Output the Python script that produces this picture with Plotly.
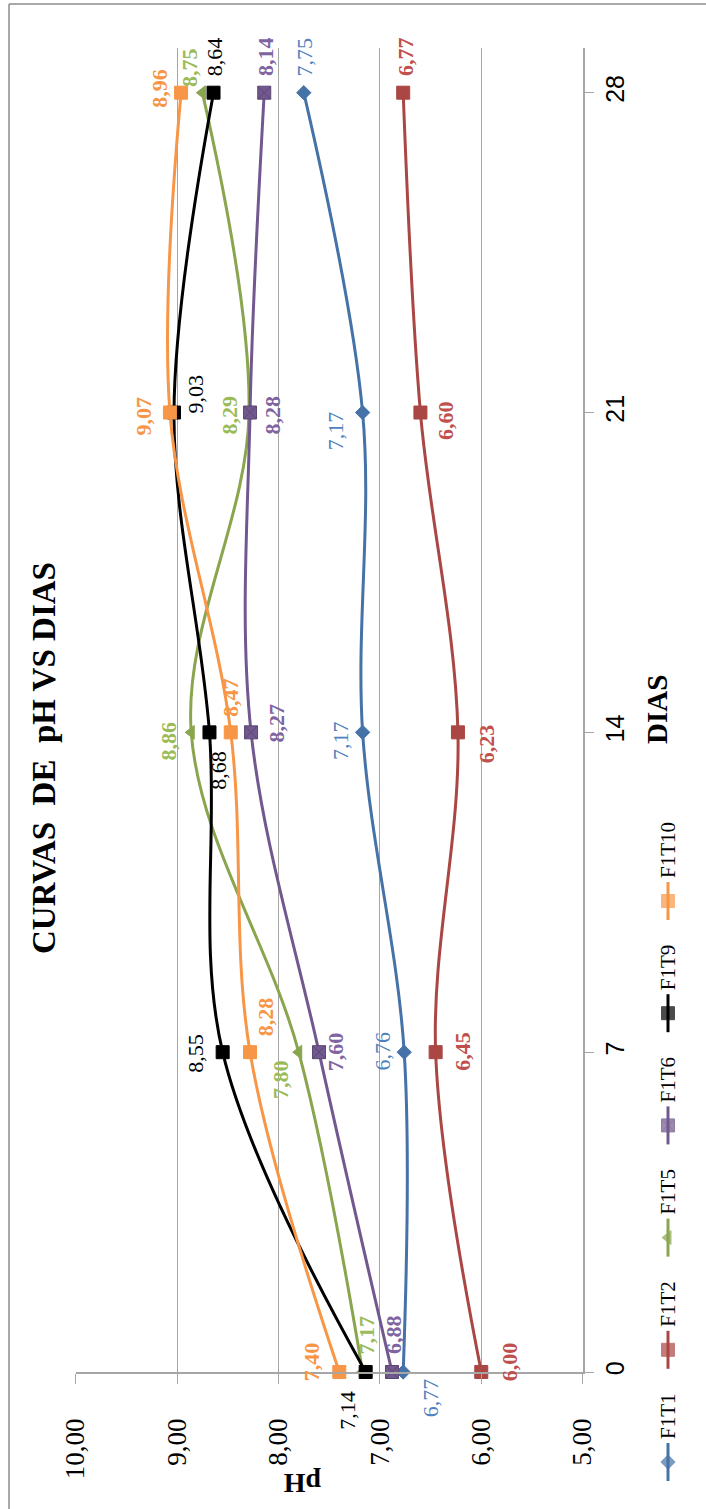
import plotly.graph_objects as go

# ---- data -------------------------------------------------------------
DAYS = [0, 7, 14, 21, 28]
SERIES_NAMES = ["F1T1", "F1T2", "F1T5", "F1T6", "F1T9", "F1T10"]
F1T1 = [6.77, 6.76, 7.17, 7.17, 7.75]
F1T2 = [6.00, 6.45, 6.23, 6.60, 6.77]
F1T5 = [7.17, 7.80, 8.86, 8.29, 8.75]
F1T6 = [6.88, 7.60, 8.27, 8.28, 8.14]
F1T9 = [7.14, 8.55, 8.68, 9.03, 8.64]
F1T10 = [7.40, 8.28, 8.47, 9.07, 8.96]
PH_TICKS = [10, 9, 8, 7, 6, 5]
DAY_TICKS = [0, 7, 14, 21, 28]

SERIES_VALUES = [F1T1, F1T2, F1T5, F1T6, F1T9, F1T10]

# ---- styling ----------------------------------------------------------
W, H = 706, 1509
PLOT_L, PLOT_R, PLOT_T, PLOT_B = 75.6, 582.7, 48.0, 1372.0
DAY28_Y = 92.7
GRID = "#A6A6A6"
SERIF = "Liberation Serif, Times New Roman, serif"
SANS = "Liberation Sans, Arial, sans-serif"

STYLE = {
    "F1T1": dict(line="#4572A7", label="#4F81BD", symbol="diamond", size=11, bold=False, mline="#4572A7"),
    "F1T2": dict(line="#AA4643", label="#C0504D", symbol="square", size=13, bold=True, mline="#AA4643"),
    "F1T5": dict(line="#89A54E", label="#9BBB59", symbol="triangle-left", size=12, bold=True, mline="#89A54E"),
    "F1T6": dict(line="#71588F", label="#8064A2", symbol="square-x", size=13, bold=True, mline="#5C4775"),
    "F1T9": dict(line="#000000", label="#000000", symbol="square", size=13, bold=False, mline="#000000"),
    "F1T10": dict(line="#F79646", label="#F79646", symbol="square", size=13, bold=True, mline="#F79646"),
}

# label offsets in pixels (dx right, dy down) for each day
LABEL_OFFSETS = {
    "F1T1": [(27, 26), (-22, -1), (-22, 8), (-27, 18), (1, -36)],
    "F1T2": [(28, -10), (27, -1), (28, 11), (25, 8), (3, -36)],
    "F1T5": [(3, -37), (-19, 27), (-23, 9), (-20, 3), (-13, -25)],
    "F1T6": [(1, -37), (16, 0), (25, -9), (22, 3), (1, -36)],
    "F1T9": [(-19, 38), (-27, 1), (9, 38), (22, -19), (1, -36)],
    "F1T10": [(-28, -10), (15, -35), (0, -35), (-26, 3), (-21, -4)],
}

day_top = DAY_TICKS[-1] * (PLOT_B - PLOT_T) / (PLOT_B - DAY28_Y)

fig = go.Figure()

for name, vals in zip(SERIES_NAMES, SERIES_VALUES):
    st = STYLE[name]
    fig.add_trace(go.Scatter(
        x=vals, y=DAYS, mode="lines+markers", name=name,
        line=dict(color=st["line"], width=3, shape="spline", smoothing=1.0),
        marker=dict(symbol=st["symbol"], size=st["size"], color=st["line"],
                    line=dict(color=st["mline"], width=1)),
        cliponaxis=False, showlegend=False, hoverinfo="skip",
    ))

annotations = []


def fmt(v):
    return f"{v:.2f}".replace(".", ",")


for name, vals in zip(SERIES_NAMES, SERIES_VALUES):
    st = STYLE[name]
    for d, v, (dx, dy) in zip(DAYS, vals, LABEL_OFFSETS[name]):
        annotations.append(dict(
            x=v, y=d, xref="x", yref="y", text=fmt(v), showarrow=False,
            textangle=-90, xanchor="center", yanchor="middle",
            xshift=dx, yshift=-dy,
            font=dict(family=SERIF, size=22, color=st["label"],
                      weight="bold" if st["bold"] else "normal"),
        ))

# title and axis titles (pixel coordinates on the overlay axes)
annotations.append(dict(
    x=44, y=758, xref="x2", yref="y2", showarrow=False, textangle=-90,
    text="CURVAS\u00a0\u00a0DE\u00a0\u00a0pH VS DIAS",
    font=dict(family=SERIF, size=33, color="black", weight="bold"),
    xanchor="center", yanchor="middle",
))
annotations.append(dict(
    x=657, y=710, xref="x2", yref="y2", showarrow=False, textangle=-90,
    text="DIAS", font=dict(family=SERIF, size=29, color="black", weight="bold"),
    xanchor="center", yanchor="middle",
))
annotations.append(dict(
    x=302, y=1484, xref="x2", yref="y2", showarrow=False, textangle=180,
    text="pH", font=dict(family=SERIF, size=28, color="black", weight="bold"),
    xanchor="center", yanchor="middle",
))

# legend, stacked bottom to top
LEG_X = 668
LEG_Y0 = 1462
LEG_STEP = 112.2
shapes = []
leg_x, leg_y, leg_sym, leg_col, leg_size, leg_line = [], [], [], [], [], []
for i, name in enumerate(SERIES_NAMES):
    st = STYLE[name]
    cy = LEG_Y0 - i * LEG_STEP
    shapes.append(dict(type="line", xref="x2", yref="y2", x0=LEG_X, x1=LEG_X,
                       y0=cy - 19, y1=cy + 19, line=dict(color=st["line"], width=3)))
    leg_x.append(LEG_X)
    leg_y.append(cy)
    leg_sym.append(st["symbol"])
    leg_col.append(st["line"])
    leg_size.append(st["size"])
    leg_line.append(st["mline"])
    annotations.append(dict(
        x=LEG_X, y=cy - 22, xref="x2", yref="y2", showarrow=False, textangle=-90,
        text=name, font=dict(family=SERIF, size=21, color="black"),
        xanchor="center", yanchor="bottom", borderpad=0,
    ))

fig.add_trace(go.Scatter(
    x=leg_x, y=leg_y, xaxis="x2", yaxis="y2", mode="markers",
    marker=dict(symbol=leg_sym, color=leg_col, size=leg_size,
                line=dict(color=leg_line, width=1)),
    showlegend=False, hoverinfo="skip", cliponaxis=False,
))

# chart border (left and top edges visible)
shapes.append(dict(type="line", xref="x2", yref="y2", x0=9, x1=9, y0=4, y1=H,
                   line=dict(color="#8C8C8C", width=1.5)))
shapes.append(dict(type="line", xref="x2", yref="y2", x0=9, x1=W, y0=4, y1=4,
                   line=dict(color="#8C8C8C", width=1.5)))

fig.update_layout(
    width=W, height=H, autosize=False,
    margin=dict(l=0, r=0, t=0, b=0, pad=0, autoexpand=False),
    paper_bgcolor="white", plot_bgcolor="rgba(0,0,0,0)",
    separators=",.",
    showlegend=False,
    xaxis=dict(
        range=[10, 5], domain=[PLOT_L / W, PLOT_R / W], anchor="y",
        tickvals=PH_TICKS, tickformat=".2f", tickangle=-90,
        ticks="outside", ticklen=10, tickcolor=GRID, tickwidth=1,
        showgrid=True, gridcolor=GRID, gridwidth=1,
        showline=True, linecolor=GRID, linewidth=1.5, zeroline=False,
        tickfont=dict(family=SERIF, size=27, color="black"),
        ticklabelstandoff=24, fixedrange=True, automargin=False,
    ),
    yaxis=dict(
        range=[0, day_top], domain=[1 - PLOT_B / H, 1 - PLOT_T / H], anchor="x",
        side="right", tickvals=DAY_TICKS, tickangle=-90,
        ticks="outside", ticklen=9, tickcolor=GRID, tickwidth=1,
        showgrid=False, showline=True, linecolor=GRID, linewidth=2,
        zeroline=False,
        tickfont=dict(family=SANS, size=25, color="black"),
        ticklabelstandoff=0, fixedrange=True, automargin=False,
    ),
    xaxis2=dict(range=[0, W], domain=[0, 1], anchor="y2", visible=False,
                fixedrange=True, automargin=False),
    yaxis2=dict(range=[H, 0], domain=[0, 1], anchor="x2", visible=False,
                fixedrange=True, automargin=False),
    annotations=annotations,
    shapes=shapes,
)

fig.write_html("out.html")
